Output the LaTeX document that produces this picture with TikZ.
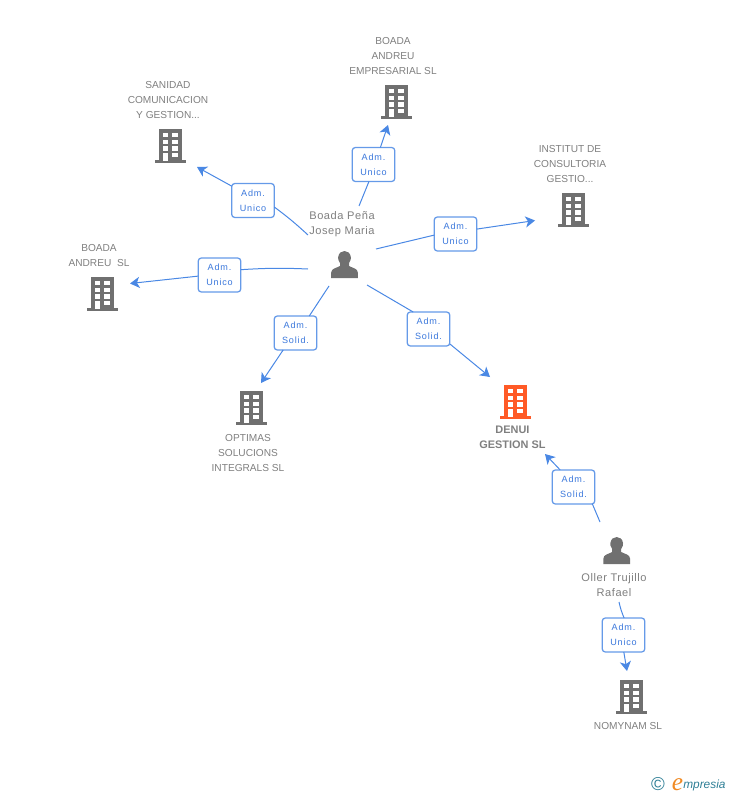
\documentclass[tikz,border=0pt]{standalone}
\usepackage{fontspec}
\setmainfont{Liberation Sans}
\newfontfamily\boxfont[LetterSpace=9]{Liberation Sans}
\newfontfamily\nmfont[LetterSpace=5]{Liberation Sans}
\newfontfamily\efont{Liberation Serif}
\usetikzlibrary{arrows.meta}
\definecolor{bluel}{HTML}{4A88E4}
\definecolor{bluet}{HTML}{3B78DC}
\definecolor{grayi}{HTML}{707070}
\definecolor{grayt}{HTML}{7F7F7F}
\definecolor{orangei}{HTML}{FF5A26}
\definecolor{teall}{HTML}{2F7F96}
\definecolor{logoorange}{HTML}{F08A24}
\tikzset{
  x=0.75pt,y=-0.75pt,
  relbox/.style={draw=bluel!85!white,line width=0.95pt,rounded corners=2.4pt,fill=white,
    minimum width=32pt,minimum height=25.5pt,inner sep=0pt,outer sep=0pt,align=center,text=bluet,
    font=\boxfont\fontsize{6.8}{11.2}\selectfont},
  link/.style={draw=bluel,line width=0.75pt},
  arrowlink/.style={link,-{Stealth[length=7.2pt,width=8.4pt,inset=2pt]}},
  complabel/.style={text=grayt,align=center,inner sep=0pt,font=\fontsize{7.6}{11.25}\selectfont},
  boldlabel/.style={complabel,font=\bfseries\fontsize{8.2}{11.25}\selectfont},
  perlabel/.style={complabel,font=\nmfont\fontsize{8.3}{11.25}\selectfont},
  pics/building/.style={code={
    \fill[#1] (-11,-17) rectangle (11.5,14);
    \fill[#1] (-15.5,14) rectangle (16,17);
    \fill[white] (-7,-13) rectangle (-2,-8.7);
    \fill[white] (2.4,-13) rectangle (7.7,-8.7);
    \fill[white] (-7,-6.3) rectangle (-2,-2);
    \fill[white] (2.4,-6.3) rectangle (7.7,-2);
    \fill[white] (-7,0.3) rectangle (-2,4.7);
    \fill[white] (2.4,0.3) rectangle (7.7,4.7);
    \fill[white] (-7,7) rectangle (-2,15);
    \fill[white] (2.4,7) rectangle (7.7,11.3);
  }},
  pics/person/.style={code={
    \fill[grayi] (-13.3,13.5) -- (-13.3,8) .. controls (-13.3,4) and (-8,3.5) .. (-4.5,1.5)
      .. controls (-4.2,0.5) and (-4.2,-0.5) .. (-4.5,-1.5)
      .. controls (-6.5,-4) and (-6.5,-6) .. (-6.3,-7.5)
      .. controls (-5.8,-11.5) and (-3,-13.5) .. (0,-13.5)
      .. controls (3,-13.5) and (5.8,-11.5) .. (6.3,-7.5)
      .. controls (6.5,-6) and (6.5,-4) .. (4.5,-1.5)
      .. controls (4.2,-0.5) and (4.2,0.5) .. (4.5,1.5)
      .. controls (8,3.5) and (13.3,4) .. (13.3,8) -- (13.3,13.5) -- cycle;
  }}
}
\begin{document}
\begin{tikzpicture}
\useasboundingbox (0,0) rectangle (728,795);
% buildings and persons
\pic at (396,102) {building=grayi};
\pic at (170,146) {building=grayi};
\pic at (573,210) {building=grayi};
\pic at (102,294) {building=grayi};
\pic at (251,408) {building=grayi};
\pic at (515,402) {building=orangei};
\pic at (631,697) {building=grayi};
\pic at (344.5,264.5) {person};
\pic at (616.7,550.5) {person};
% labels
\node[complabel] (t1) at (393,56) {BOADA\\ANDREU\\EMPRESARIAL SL};
\node[complabel] (t2) at (168,100) {SANIDAD\\COMUNICACION\\Y GESTION...};
\node[complabel] (t3) at (570,164) {INSTITUT DE\\CONSULTORIA\\GESTIO...};
\node[complabel] (t4) at (99,255.5) {BOADA\\ANDREU\ \ SL};
\node[complabel] (t5) at (248,453) {OPTIMAS\\SOLUCIONS\\INTEGRALS SL};
\node[boldlabel] (t6) at (512.5,437.5) {DENUI\\GESTION SL};
\node[complabel] (t7) at (628,726) {NOMYNAM SL};
\node[perlabel] (p1) at (342,224) {Boada Peña\\Josep Maria};
\node[perlabel] (p2) at (614,585.5) {Oller Trujillo\\Rafael};
% relation boxes
\node[relbox] (b1) at (373.5,164.5) {Adm.\\Unico};
\node[relbox] (b2) at (253,200.5) {Adm.\\Unico};
\node[relbox] (b3) at (455.5,234) {Adm.\\Unico};
\node[relbox] (b4) at (219.5,275) {Adm.\\Unico};
\node[relbox] (b5) at (295.5,333) {Adm.\\Solid.};
\node[relbox] (b6) at (428.5,329) {Adm.\\Solid.};
\node[relbox] (b7) at (573.5,487) {Adm.\\Solid.};
\node[relbox] (b8) at (623.5,635) {Adm.\\Unico};
% connector ends
\coordinate (s1) at (359,206);  \coordinate (e1) at (388,125);
\coordinate (s2) at (308,235);  \coordinate (e2) at (197,167);
\coordinate (s3) at (376,249);  \coordinate (e3) at (535,220.5);
\coordinate (s4) at (308,269);  \coordinate (e4) at (130,283.5);
\coordinate (s5) at (329,286);  \coordinate (e5) at (261,383);
\coordinate (s6) at (367,285);  \coordinate (e6) at (490,377);
\coordinate (s7) at (600,522);  \coordinate (e7) at (545,454);
\coordinate (s8) at (619,602);  \coordinate (e8) at (627,671);
% connectors
\draw[link] (s1) -- (b1.-105);
\draw[arrowlink] (b1.68) -- (e1);
\draw[link] (s2) to[bend right=3] (b2.-17);
\draw[arrowlink] (b2.146) -- (e2);
\draw[link] (s3) -- (b3.183);
\draw[arrowlink] (b3.13) -- (e3);
\draw[link] (s4) to[bend right=3] (b4.14);
\draw[arrowlink] (b4.183) -- (e4);
\draw[link] (s5) -- (b5.51.5);
\draw[arrowlink] (b5.-126) -- (e5);
\draw[link] (s6) -- (b6.132);
\draw[arrowlink] (b6.-35) -- (e6);
\draw[link] (s7) -- (b7.-42.5);
\draw[arrowlink] (b7.128) -- (e7);
\draw[link] (s8) to[bend right=5] (b8.88);
\draw[arrowlink] (b8.271) -- (e8);
% logo
\node[text=teall,inner sep=0pt,font=\fontsize{14}{14}\selectfont] (c) at (658,784.5) {©};
\node[inner sep=0pt,anchor=base west,font=\itshape\fontsize{8.9}{9}\selectfont,text=teall] (l) at (671.5,788)
  {\raisebox{-2.2pt}{\textcolor{logoorange}{\efont\itshape\fontsize{19}{19}\selectfont e}}\kern0.2pt mpresia};
\end{tikzpicture}
\end{document}
